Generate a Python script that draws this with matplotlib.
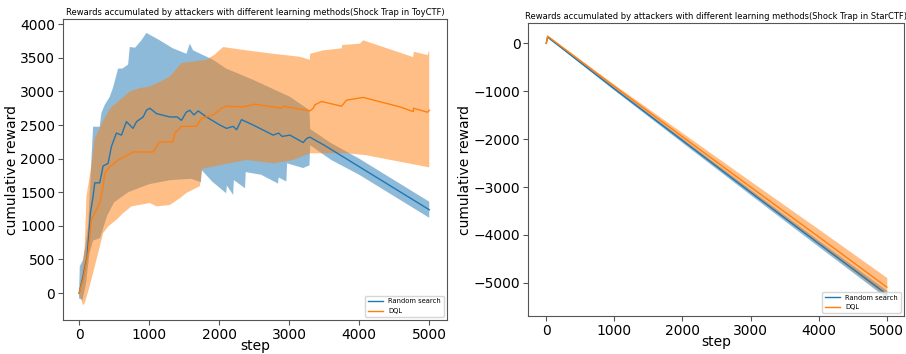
import numpy as np
import matplotlib
matplotlib.use("Agg")
import matplotlib.pyplot as plt

# ---- ToyCTF (left panel) ----
rand_x = [0, 57, 114, 162, 200, 224, 295, 343, 414, 462, 533, 605, 676, 770, 820, 915, 962, 1010,
          1105, 1295, 1400, 1462, 1530, 1580, 1640, 1700, 1819, 2010, 2105, 2200, 2250, 2319, 2486,
          2771, 2850, 2900, 3010, 3200, 3250, 3295, 3500, 4000, 4500, 5000]
rand_mean = [0, 250, 540, 1190, 1440, 1640, 1640, 1890, 1930, 2180, 2380, 2350, 2550, 2450, 2550,
             2620, 2720, 2750, 2670, 2620, 2620, 2570, 2690, 2720, 2650, 2710, 2620, 2500, 2450,
             2480, 2430, 2580, 2500, 2350, 2380, 2330, 2350, 2240, 2300, 2320, 2200, 1880, 1560, 1240]

rand_up_x = [0, 10, 57, 90, 130, 176, 200, 295, 319, 367, 438, 486, 557, 620, 700, 724, 800, 890,
             962, 1152, 1340, 1533, 1581, 1629, 1914, 2100, 2490, 3010, 3290, 3300, 3600, 4000,
             4500, 5000]
rand_up = [0, 400, 495, 700, 1000, 1980, 2475, 2475, 2680, 2800, 2920, 3060, 3340, 3340, 3400, 3660,
           3650, 3760, 3870, 3760, 3640, 3560, 3710, 3610, 3470, 3340, 3170, 2920, 2720, 2440, 2230,
           2000, 1680, 1360]

rand_lo_x = [0, 50, 100, 150, 200, 300, 400, 500, 700, 1000, 1300, 1600, 1740, 1750, 1900, 2100,
             2110, 2200, 2210, 2370, 2380, 2600, 2840, 2850, 2960, 2970, 3200, 3290, 3300, 3600,
             4000, 4500, 5000]
rand_lo = [-80, -100, 150, 600, 780, 820, 1150, 1350, 1500, 1620, 1680, 1700, 1650, 1830, 1660, 1485,
           1600, 1460, 1680, 1560, 1800, 1760, 1630, 1720, 1660, 1930, 1860, 1900, 2200, 1980, 1760,
           1440, 1120]

dql_x = [0, 57, 129, 176, 224, 295, 343, 367, 438, 557, 652, 771, 1057, 1152, 1343, 1367, 1462,
         1676, 1748, 1914, 2033, 2105, 2343, 2510, 2890, 2914, 3295, 3343, 3367, 3462, 3748, 3819,
         4057, 4581, 4771, 4776, 4976, 5000]
dql_mean = [0, 200, 590, 1090, 1190, 1340, 1580, 1780, 1880, 1980, 2030, 2100, 2100, 2250, 2250,
            2380, 2480, 2480, 2600, 2650, 2750, 2780, 2770, 2810, 2750, 2780, 2710, 2750, 2800, 2850,
            2780, 2870, 2910, 2770, 2700, 2750, 2690, 2720]

dql_up_x = [0, 40, 81, 105, 176, 224, 343, 438, 557, 724, 867, 1000, 1152, 1295, 1462, 1600, 1819,
            1938, 2057, 2390, 2771, 3152, 3295, 3300, 3486, 3748, 3760, 4010, 4057, 4771, 4780,
            4976, 5000]
dql_up = [0, 300, 693, 1435, 1900, 2300, 2560, 2740, 2850, 3000, 3050, 3070, 3140, 3220, 3420, 3440,
          3470, 3550, 3660, 3610, 3560, 3515, 3470, 3560, 3610, 3640, 3690, 3710, 3760, 3510, 3590,
          3540, 3610]

dql_lo_x = [0, 57, 81, 150, 200, 271, 343, 414, 533, 629, 748, 1010, 1105, 1295, 1438, 1533, 1724,
            1760, 2000, 2390, 2771, 3057, 3295, 3819, 4105, 4500, 5000]
dql_lo = [0, -180, -150, 100, 300, 590, 890, 990, 1090, 1190, 1290, 1340, 1290, 1310, 1410, 1490,
          1590, 1850, 1900, 1980, 1930, 1980, 2080, 2080, 2050, 1970, 1870]

# ---- StarCTF (right panel) ----
star_x = [0, 20, 1000, 2000, 3000, 4000, 5000]
star_rand_mean = [0, 130, -950, -2030, -3110, -4180, -5240]
star_rand_err = [0, 10, 30, 45, 55, 65, 80]
star_dql_mean = [0, 150, -900, -1950, -3000, -4040, -5090]
star_dql_err = [0, 10, 40, 80, 120, 160, 200]

title_toy = "Rewards accumulated by attackers with different learning methods(Shock Trap in ToyCTF)"
title_star = "Rewards accumulated by attackers with different learning methods(Shock Trap in StarCTF)"

BLUE = "tab:blue"
ORANGE = "tab:orange"
FS = 10
SPINE = "#555555"


def band(ax, up_x, up, lo_x, lo, color):
    px = list(up_x) + list(lo_x)[::-1]
    py = list(up) + list(lo)[::-1]
    ax.fill(px, py, color=color, alpha=0.5, lw=0)


def style(ax, title):
    ax.set_title(title, fontsize=6.0, pad=3)
    ax.set_xlabel("step", fontsize=FS, labelpad=-2)
    ax.set_ylabel("cumulative reward", fontsize=FS, labelpad=1)
    ax.tick_params(labelsize=FS, length=3.5, width=0.8, pad=2, color=SPINE)
    ax.set_xticks([0, 1000, 2000, 3000, 4000, 5000])
    for s in ax.spines.values():
        s.set_color(SPINE)
    ax.legend(loc="lower right", fontsize=4.9, handlelength=2.2)


fig = plt.figure(figsize=(9.06, 3.54), dpi=100)

ax1 = fig.add_axes([0.0695, 0.096, 0.424, 0.850])
band(ax1, rand_up_x, rand_up, rand_lo_x, rand_lo, BLUE)
band(ax1, dql_up_x, dql_up, dql_lo_x, dql_lo, ORANGE)
ax1.plot(rand_x, rand_mean, color=BLUE, lw=1, label="Random search")
ax1.plot(dql_x, dql_mean, color=ORANGE, lw=1, label="DQL")
ax1.set_xlim(-230, 5255)
ax1.set_ylim(-400, 4075)
style(ax1, title_toy)

ax2 = fig.add_axes([0.583, 0.107, 0.415, 0.828])
sx = np.array(star_x)
ax2.fill_between(sx, np.array(star_rand_mean) - star_rand_err, np.array(star_rand_mean) + star_rand_err,
                 color=BLUE, alpha=0.5, lw=0)
ax2.fill_between(sx, np.array(star_dql_mean) - star_dql_err, np.array(star_dql_mean) + star_dql_err,
                 color=ORANGE, alpha=0.5, lw=0)
ax2.plot(star_x, star_rand_mean, color=BLUE, lw=1, label="Random search")
ax2.plot(star_x, star_dql_mean, color=ORANGE, lw=1, label="DQL")
ax2.set_xlim(-265, 5255)
ax2.set_ylim(-5695, 424)
style(ax2, title_star)

fig.savefig("out.png", dpi=100)
